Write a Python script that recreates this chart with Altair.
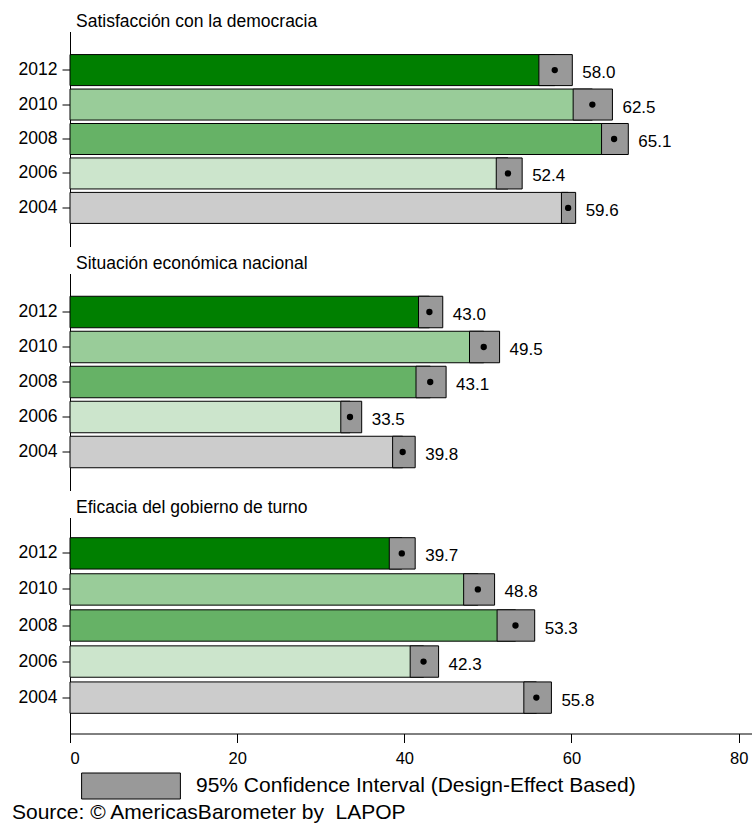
import altair as alt
import pandas as pd

FONT = "Liberation Sans"

years = ["2012", "2010", "2008", "2006", "2004"]
year_colors = ["#007f00", "#99cc99", "#66b266", "#cce5cc", "#cccccc"]
ci_color = "#999999"

titles = [
    "Satisfacción con la democracia",
    "Situación económica nacional",
    "Eficacia del gobierno de turno",
]

dem_mean = [58.0, 62.5, 65.1, 52.4, 59.6]
dem_low = [56.1, 60.2, 63.6, 51.0, 58.8]
dem_high = [60.1, 64.9, 66.8, 54.1, 60.5]

eco_mean = [43.0, 49.5, 43.1, 33.5, 39.8]
eco_low = [41.7, 47.8, 41.4, 32.4, 38.6]
eco_high = [44.6, 51.4, 45.0, 34.9, 41.3]

gov_mean = [39.7, 48.8, 53.3, 42.3, 55.8]
gov_low = [38.2, 47.1, 51.1, 40.7, 54.3]
gov_high = [41.3, 50.8, 55.6, 44.1, 57.6]

x_ticks = [0, 20, 40, 60, 80]
legend_label = "95% Confidence Interval (Design-Effect Based)"
# non-breaking space keeps the double gap before LAPOP in SVG text
source_label = "Source: © AmericasBarometer by \u00a0LAPOP"

W = 682


def panel(title, means, lows, highs, height, pad_in, pad_out, last):
    df = pd.DataFrame({"year": years, "mean": means, "low": lows, "high": highs,
                       "ci": [legend_label] * len(years)})
    if last:
        xaxis = alt.Axis(values=x_ticks, tickSize=9, labelFontSize=16.5, labelPadding=8,
                         labelFont=FONT, labelColor="black", domainColor="black",
                         tickColor="black", grid=False, title=None)
    else:
        xaxis = None
    xscale = alt.Scale(domain=[0, 81.6], nice=False, zero=True)
    yenc = alt.Y("year:N", sort=years,
                 scale=alt.Scale(domain=years, paddingInner=pad_in, paddingOuter=pad_out),
                 axis=alt.Axis(title=None, tickSize=8, labelFontSize=17.5, labelPadding=5,
                               labelFont=FONT, labelColor="black", domainColor="black",
                               tickColor="black", grid=False))
    base = alt.Chart(df)
    bars = base.mark_bar(stroke="black", strokeWidth=1).encode(
        x=alt.X("mean:Q", scale=xscale, axis=xaxis),
        y=yenc,
        color=alt.Color("year:N", scale=alt.Scale(domain=years, range=year_colors), legend=None),
    )
    ci_scale = alt.Scale(domain=[legend_label], range=[ci_color])
    if last:
        ci_col = alt.Color("ci:N", scale=ci_scale,
                           legend=alt.Legend(
                               title=None, orient="none", legendX=47.5, legendY=255,
                               symbolType="M-3.8,-1L3.8,-1L3.8,1L-3.8,1Z",
                               symbolSize=676, symbolStrokeColor="black",
                               symbolStrokeWidth=1, symbolOpacity=1,
                               labelFontSize=21, labelFont=FONT, labelColor="black",
                               labelOffset=51.5, padding=0, labelLimit=600))
    else:
        ci_col = alt.Color("ci:N", scale=ci_scale, legend=None)
    ci = base.mark_bar(stroke="black", strokeWidth=1, opacity=1).encode(
        x=alt.X("low:Q", scale=xscale, axis=xaxis), x2="high:Q", y=yenc, color=ci_col,
    )
    dot = base.mark_point(filled=True, color="black", size=40, opacity=1).encode(
        x=alt.X("mean:Q", scale=xscale, axis=xaxis), y=yenc,
    )
    lab = base.mark_text(align="left", baseline="middle", dx=10, dy=3, fontSize=17,
                         font=FONT, color="black").encode(
        x=alt.X("high:Q", scale=xscale, axis=xaxis), y=yenc,
        text=alt.Text("mean:Q", format=".1f"),
    )
    layers = [bars, ci, dot, lab]
    if last:
        src = alt.Chart(pd.DataFrame({"t": [source_label]})).mark_text(
            align="left", baseline="middle", fontSize=21, font=FONT, color="black"
        ).encode(x=alt.value(-58), y=alt.value(295), text="t:N")
        layers.append(src)
    return alt.layer(*layers).resolve_scale(color="independent").properties(
        width=W, height=height,
        title=alt.TitleParams(title, anchor="start", frame="group", fontSize=17.5,
                              font=FONT, fontWeight="normal", color="black",
                              dx=6, offset=1),
    )


chart = alt.vconcat(
    panel(titles[0], dem_mean, dem_low, dem_high, 215, 0.1, 0.67, False),
    panel(titles[1], eco_mean, eco_low, eco_high, 217, 0.1, 0.65, False),
    panel(titles[2], gov_mean, gov_low, gov_high, 216, 0.13, 0.56, True),
    spacing=8,
).properties(
    padding={"left": 12, "top": 12.5, "right": 0, "bottom": 0},
    background="white",
).configure_view(stroke=None)

chart.save("out.html", embed_options={"renderer": "svg", "actions": False})
